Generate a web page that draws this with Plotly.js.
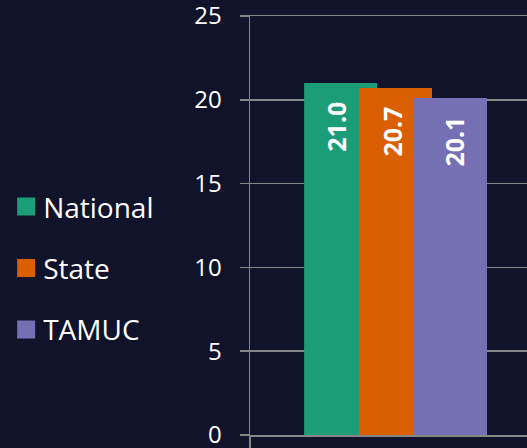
<!DOCTYPE html>
<html>
<head>
<meta charset="utf-8">
<script src="https://cdn.plot.ly/plotly-3.0.1.min.js"></script>
<style>html,body{margin:0;padding:0;background:#11132a;}#chart{width:527px;height:448px;}</style>
</head>
<body>
<div id="chart"></div>
<script>
// Data
const categories = ['ACT Composite'];
const seriesNames = ['National', 'State', 'TAMUC'];
const nationalValues = [21.0];
const stateValues = [20.7];
const tamucValues = [20.1];
const yTickValues = [0, 5, 10, 15, 20, 25];

// Styles
const colors = ['#1b9e77', '#d95f02', '#7570b3'];
const barWidth = 0.251;
const barOffsets = [-0.314, -0.1254, 0.0636];
const labelXShifts = [-5, -3, 4];
const seriesValues = [nationalValues, stateValues, tamucValues];

const traces = seriesNames.map((name, i) => ({
  type: 'bar',
  name: name,
  x: categories,
  y: seriesValues[i],
  width: barWidth,
  offset: barOffsets[i],
  marker: {color: colors[i], line: {width: 0}},
  legendgroup: 'g' + i,
  hoverinfo: 'none'
}));

const annotations = [];
seriesValues.forEach((vals, i) => {
  vals.forEach((v, j) => {
    annotations.push({
      x: j + barOffsets[i] + barWidth / 2,
      y: v,
      xref: 'x', yref: 'y',
      text: v.toFixed(1),
      textangle: -90,
      showarrow: false,
      xanchor: 'center',
      yanchor: 'top',
      xshift: labelXShifts[i],
      yshift: -17,
      font: {family: 'Noto Sans', size: 25, color: '#ffffff', weight: 'bold'}
    });
  });
});

const layout = {
  width: 527, height: 448,
  paper_bgcolor: '#11132a',
  plot_bgcolor: '#11132a',
  margin: {l: 250, r: 0, t: 16, b: 13, pad: 0},
  barmode: 'overlay',
  font: {family: 'Open Sans', color: '#ffffff'},
  showlegend: true,
  legend: {
    xref: 'container', yref: 'container',
    x: 0.006, y: 0.594, xanchor: 'left', yanchor: 'top',
    font: {family: 'Open Sans', size: 28, color: '#ffffff'},
    traceorder: 'grouped',
    tracegroupgap: 22,
    bgcolor: 'rgba(0,0,0,0)'
  },
  xaxis: {
    type: 'category',
    range: [-0.5, 0.452],
    showticklabels: false,
    ticks: 'outside',
    tickson: 'boundaries',
    ticklen: 12,
    tickwidth: 1.5,
    tickcolor: '#868686',
    showline: true,
    mirror: true,
    linecolor: '#868686',
    linewidth: 1.5,
    showgrid: false,
    zeroline: false,
    fixedrange: true
  },
  yaxis: {
    range: [0, 25],
    tickvals: yTickValues,
    ticktext: yTickValues.map(String),
    ticks: 'outside',
    ticklen: 9,
    tickwidth: 1.5,
    tickcolor: '#868686',
    ticklabelstandoff: 13,
    ticklabeloverflow: 'allow',
    tickfont: {family: 'Open Sans', size: 24, color: '#ffffff'},
    showline: true,
    linecolor: '#868686',
    linewidth: 1.5,
    showgrid: true,
    gridcolor: '#868686',
    gridwidth: 1.5,
    zeroline: false,
    fixedrange: true
  },
  annotations: annotations
};

Plotly.newPlot('chart', traces, layout, {displayModeBar: false, staticPlot: true}).then(() => {
  document.querySelectorAll('#chart .legend .legendpoints path').forEach(p => {
    p.setAttribute('transform', 'translate(23,0) scale(1.5)');
  });
});
</script>
</body>
</html>
